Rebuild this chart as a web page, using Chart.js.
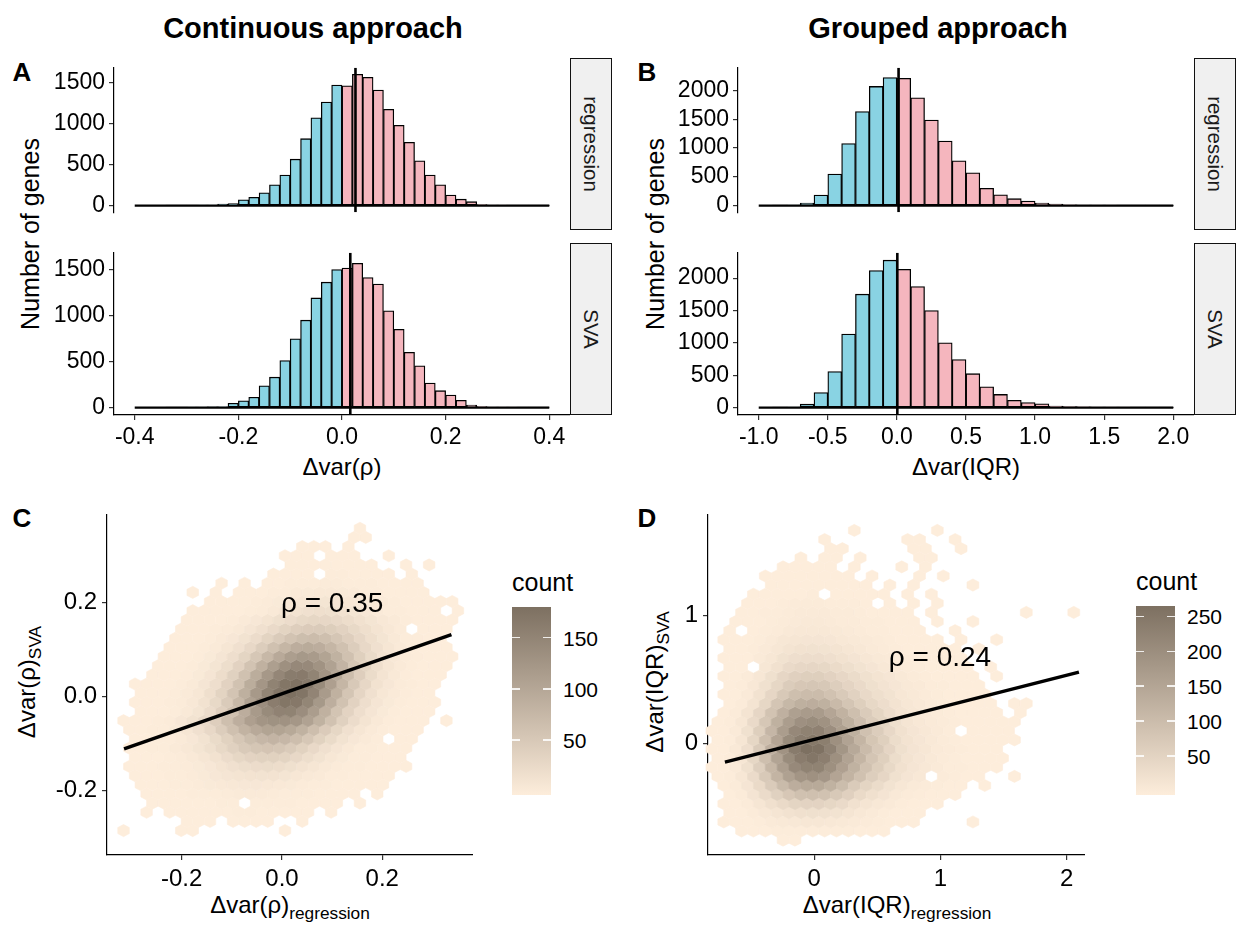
<!DOCTYPE html>
<html><head><meta charset="utf-8">
<script src="https://cdn.jsdelivr.net/npm/chart.js@4.4.0/dist/chart.umd.min.js"></script>
<style>
body{margin:0;background:#fff;width:1238px;height:927px;position:relative;overflow:hidden;font-family:"Liberation Sans",Arial,Helvetica,sans-serif;color:#000}
canvas{position:absolute}
.t{position:absolute;white-space:nowrap;transform:translate(-50%,-50%);line-height:1}
.r{transform:translate(-50%,-50%) rotate(-90deg)}
.b{font-weight:bold}
.strip{position:absolute;background:#F0F0F0;border:1.3px solid #111;box-sizing:border-box}
.strip span{position:absolute;left:50%;top:50%;transform:translate(-50%,-50%) rotate(90deg);white-space:nowrap;font-size:20.5px;color:#1a1a1a}
.sub{font-size:0.72em;position:relative;top:0.32em}
.lg{position:absolute;white-space:nowrap;line-height:1;transform:translate(0,-50%)}
.bar{position:absolute}
.tk{position:absolute;height:1.6px;width:8px;background:rgba(255,255,255,0.85)}
</style></head><body>

<div class="t b" style="left:313px;top:28px;font-size:29px">Continuous approach</div>
<div class="t b" style="left:938px;top:28px;font-size:29px">Grouped approach</div>
<div class="t b" style="left:22px;top:72px;font-size:26px">A</div>
<div class="t b" style="left:647px;top:72px;font-size:26px">B</div>
<div class="t b" style="left:22px;top:518px;font-size:26px">C</div>
<div class="t b" style="left:647px;top:518px;font-size:26px">D</div>
<div class="t r" style="left:30px;top:234px;font-size:25px">Number of genes</div>
<div class="t r" style="left:655px;top:234px;font-size:25px">Number of genes</div>
<div class="t" style="left:342px;top:467px;font-size:24px">Δvar(ρ)</div>
<div class="t" style="left:966px;top:467px;font-size:24px">Δvar(IQR)</div>
<div class="t" style="left:290px;top:905px;font-size:24px">Δvar(ρ)<span class="sub">regression</span></div>
<div class="t r" style="left:27px;top:682px;font-size:24px">Δvar(ρ)<span class="sub">SVA</span></div>
<div class="t" style="left:897px;top:905px;font-size:24px">Δvar(IQR)<span class="sub">regression</span></div>
<div class="t r" style="left:655px;top:682px;font-size:24px">Δvar(IQR)<span class="sub">SVA</span></div>

<div class="strip" style="left:570px;top:58px;width:42px;height:172px"><span>regression</span></div>
<div class="strip" style="left:570px;top:243px;width:42px;height:172px"><span>SVA</span></div>
<div class="strip" style="left:1194px;top:58px;width:42px;height:172px"><span>regression</span></div>
<div class="strip" style="left:1194px;top:243px;width:42px;height:172px"><span>SVA</span></div>

<script>
// ---------------- DATA ----------------
const facetLabels = ['regression', 'SVA'];

// Panel A: histogram of Δvar(ρ), bins of 0.02
const edgesA = [-0.40,-0.38,-0.36,-0.34,-0.32,-0.30,-0.28,-0.26,-0.24,-0.22,-0.20,-0.18,-0.16,-0.14,-0.12,-0.10,-0.08,-0.06,-0.04,-0.02,0.00,0.02,0.04,0.06,0.08,0.10,0.12,0.14,0.16,0.18,0.20,0.22,0.24,0.26,0.28,0.30,0.32,0.34,0.36,0.38,0.40];
const countsA_regression = [0,0,0,1,2,3,5,8,20,25,72,102,157,253,372,567,817,1073,1264,1472,1462,1602,1565,1411,1175,980,772,547,372,253,130,79,48,14,8,5,3,2,1,1];
const countsA_SVA = [0,0,0,1,2,3,5,8,10,48,75,113,236,331,512,748,950,1192,1363,1500,1517,1568,1414,1343,1052,851,601,454,266,184,137,79,27,12,6,4,3,2,1,1];
const medianA = [0.026, 0.016];
const yTicksA = [0,500,1000,1500];
const xTicksA = [-0.4,-0.2,0,0.2,0.4];
const xTickLabelsA = ['-0.4','-0.2','0.0','0.2','0.4'];

// Panel B: histogram of Δvar(IQR), bins of 0.1
const edgesB = [-1.0,-0.9,-0.8,-0.7,-0.6,-0.5,-0.4,-0.3,-0.2,-0.1,0.0,0.1,0.2,0.3,0.4,0.5,0.6,0.7,0.8,0.9,1.0,1.1,1.2,1.3,1.4,1.5,1.6,1.7,1.8,1.9,2.0];
const countsB_regression = [0,2,5,44,184,549,1078,1631,2068,2223,2209,1869,1485,1121,777,568,301,189,121,78,44,29,15,10,8,5,4,2,1,1];
const countsB_SVA = [0,1,5,53,233,558,1136,1752,2117,2277,2136,1869,1500,1000,743,524,320,204,112,78,58,24,15,12,8,5,4,3,2,1];
const medianB = [0.012, 0.003];
const yTicksB = [0,500,1000,1500,2000];
const xTicksB = [-1,-0.5,0,0.5,1,1.5,2];
const xTickLabelsB = ['-1.0','-0.5','0.0','0.5','1.0','1.5','2.0'];

// Panel C: hexbin counts (rows bottom->top, odd rows shifted half a bin)
const hexGridC = {x0:-0.316, dx:0.023, y0:-0.286, dy:0.0195};
const hexCountsC = [
[1,0,0,0,0,1,1,0,0,0,0,0,0,0,1],
[0,0,0,0,0,1,1,1,0,1,1,1,1,0,0,1],
[0,0,1,0,1,1,1,1,1,1,2,2,1,1,1,1,1,0,1],
[0,0,1,1,1,1,1,1,2,2,0,3,2,2,2,1,1,1,1,0,1],
[0,0,1,1,1,1,2,2,3,4,5,5,5,4,3,2,2,1,1,1,1,0,1],
[0,1,1,1,2,3,4,6,7,8,9,9,8,7,6,4,3,2,1,1,1,1,1],
[0,1,1,1,2,3,4,6,9,12,14,15,16,15,13,10,7,5,3,2,1,1,1,1],
[1,1,1,2,3,4,6,9,14,19,23,25,26,24,20,15,11,7,4,3,2,1,1,1,1],
[0,1,1,1,2,4,7,11,17,25,33,38,40,40,37,31,23,16,10,6,3,2,1,1,1],
[1,1,2,3,5,8,13,20,30,41,51,57,59,57,50,40,29,19,12,7,3,2,1,1,1],
[0,1,1,2,3,5,9,16,27,40,55,69,78,82,78,68,55,40,27,16,9,5,2,0,1,1],
[1,1,2,3,6,11,19,31,47,66,84,98,106,106,99,86,68,49,33,19,11,5,3,1,1,1],
[1,1,1,2,4,9,16,28,45,67,91,112,127,132,131,124,108,86,62,41,25,14,7,3,1,1,1,0,1],
[0,1,1,1,3,7,13,25,42,65,92,120,142,154,153,138,115,87,60,38,22,12,6,2,1,1,1],
[0,1,1,1,2,4,8,17,30,50,77,108,138,161,172,168,149,122,91,62,39,22,12,6,2,1,1,1],
[0,1,1,1,2,5,10,21,37,60,89,121,150,171,180,173,151,119,87,58,35,19,10,5,2,1,1],
[0,1,1,1,1,2,5,12,22,39,63,93,125,153,172,177,166,142,112,80,53,32,17,9,4,2,1,1],
[0,0,1,1,1,3,6,12,24,41,64,93,123,148,163,165,152,128,99,70,45,26,14,7,3,1,1,1],
[0,0,0,1,1,1,3,6,13,23,39,61,87,113,134,145,144,130,108,82,57,36,21,11,5,2,1,1,1],
[0,0,0,1,1,1,3,6,12,22,36,55,77,98,114,122,119,106,86,64,43,27,15,8,4,2,1,1,1],
[0,0,0,0,1,1,1,3,5,11,19,31,47,64,80,92,96,92,80,64,47,31,19,11,5,3,1,1,1],
[0,0,0,0,1,1,1,2,5,9,16,25,37,50,61,69,71,67,57,45,32,21,13,7,3,2,1,1],
[0,0,0,0,0,1,1,1,2,4,7,12,19,28,37,45,49,50,46,39,30,21,14,8,4,0,1,1,1],
[0,0,0,0,0,1,1,1,1,3,5,9,14,20,25,30,33,32,29,24,18,13,8,5,2,1,1,1,1],
[0,0,0,0,0,0,1,1,1,1,1,2,4,7,11,15,19,21,20,17,13,9,5,3,2,1,1,1,0,1],
[0,0,0,0,0,0,0,1,1,1,1,2,4,6,8,10,12,13,12,10,8,6,4,2,1,1,1,1,1],
[0,0,0,0,0,0,1,0,1,0,1,1,1,2,3,5,6,7,7,6,5,3,2,1,1,1,1],
[0,0,0,0,0,0,0,0,1,0,1,0,1,1,2,3,3,4,4,3,3,2,1,1,1,1],
[0,0,0,0,0,0,0,0,0,0,0,0,0,1,1,1,1,0,2,2,1,1,1,1,0,1],
[0,0,0,0,0,0,0,0,0,0,0,0,0,0,1,1,1,1,1,1,1,1,0,0,1,0,1],
[0,0,0,0,0,0,0,0,0,0,0,0,0,0,1,1,1,0,1,1,1,0,0,1],
[0,0,0,0,0,0,0,0,0,0,0,0,0,0,0,1,1,1,0,1],
[0,0,0,0,0,0,0,0,0,0,0,0,0,0,0,0,0,0,0,0,1,1],
[0,0,0,0,0,0,0,0,0,0,0,0,0,0,0,0,0,0,0,0,1]
];
const fitC_x = [-0.315, 0.338];
const fitC_y = [-0.112, 0.131];
const annotC = {text:'ρ = 0.35', x:0.10, y:0.196};
const xTicksC = [-0.2,0,0.2], xTickLabelsC = ['-0.2','0.0','0.2'];
const yTicksC = [-0.2,0,0.2], yTickLabelsC = ['-0.2','0.0','0.2'];
const legendTicksC = [50,100,150];

// Panel D
const hexGridD = {x0:-0.811, dx:0.094, y0:-0.756, dy:0.0712};
const hexCountsD = [
[0,0,0,0,0,0,1,1],
[0,0,1,1,2,3,3,4,4,4,3,3,2,1,1],
[0,1,1,2,4,7,10,12,13,13,11,9,7,5,4,2,1,1,0,0,0,0,1],
[0,1,2,6,12,18,24,28,29,27,23,18,11,7,4,2,1,1],
[0,1,2,6,16,28,41,52,55,55,48,40,26,18,12,7,4,2,1,1],
[0,2,6,19,38,60,80,93,96,91,77,61,41,28,19,10,6,3,2,1,1],
[0,1,5,17,41,73,107,135,143,143,126,103,72,52,37,23,13,8,5,3,1,1,0,1],
[1,3,13,38,77,121,161,186,194,183,154,123,94,66,49,27,17,11,0,5,3,2,1,0,0,1],
[1,2,8,27,64,115,167,211,225,225,197,162,126,93,67,44,26,17,11,7,4,3,1,1,1],
[1,4,16,48,98,155,206,238,252,234,197,157,119,85,63,35,22,15,10,6,4,2,1,1,1],
[1,2,10,30,73,131,191,241,264,260,226,185,144,106,77,51,29,19,13,8,5,3,2,1,1],
[1,4,16,48,97,154,206,237,246,233,197,157,119,84,63,35,22,15,10,6,4,2,1,1,1,1],
[1,2,8,27,65,116,169,213,227,228,200,164,128,94,68,45,26,17,11,7,4,0,2,1,1,1],
[1,3,14,40,81,128,170,196,204,193,163,130,99,70,52,29,18,12,8,5,3,2,1,1,1,1],
[0,1,6,20,49,89,129,163,174,174,152,125,97,72,52,34,20,13,8,5,3,2,1,1,1,0,1],
[0,1,6,20,48,85,113,130,135,128,108,86,65,46,34,22,14,9,6,4,2,1,1,1,0,1,1],
[0,1,2,8,24,49,77,97,104,104,91,74,58,43,31,23,14,9,6,4,2,1,1,1],
[0,1,3,11,27,48,70,80,83,79,66,53,40,29,21,15,10,7,4,3,2,1,1],
[0,1,1,5,14,29,49,61,65,65,57,47,37,27,20,15,9,6,4,2,1,1,1,0,1],
[0,1,2,0,13,26,40,47,49,46,39,31,23,17,12,8,5,3,2,1,1,1,0,1],
[0,1,1,2,7,14,25,32,34,34,30,24,19,14,10,7,4,3,2,1,1,1],
[0,1,1,3,7,13,20,24,25,23,20,16,12,8,6,3,2,1,1,1,1,0,1],
[0,1,1,1,3,7,13,16,17,17,15,12,9,7,5,3,2,1,1,1,0,1,0,0,1],
[0,1,0,1,3,6,10,11,11,11,9,7,6,4,3,2,1,1,0,0,1],
[0,0,1,1,2,4,6,8,9,9,8,6,5,4,3,2,1,1,0,1,0,0,1],
[0,0,1,1,3,4,6,7,7,7,6,5,3,2,2,1,1,0,1,0,0,0,0,0,0,0,1,0,0,0,1],
[0,0,0,1,1,2,4,5,5,5,4,3,3,2,0,1,0,1,0,1],
[0,0,0,1,1,2,2,2,3,0,2,2,1,1,1,0,1,0,1],
[0,0,0,0,0,1,1,2,2,2,2,1,1,1,0,1,0,1,0,0,0,0,1],
[0,0,0,0,1,1,1,1,2,1,1,1,0,1,0,0,0,1,0,1],
[0,0,0,0,0,0,1,1,1,1,1,0,1,0,0,0,1,0,1],
[0,0,0,0,0,0,0,1,0,1,1,0,1,0,0,0,0,1,1],
[0,0,0,0,0,0,0,0,0,0,1,1,0,0,0,0,0,1,1,0,0,1],
[0,0,0,0,0,0,0,0,0,1,0,0,0,0,0,0,1,1,0,0,1],
[0,0,0,0,0,0,0,0,0,0,0,0,1,0,0,0,0,0,0,1]
];
const fitD_x = [-0.708, 2.097];
const fitD_y = [-0.146, 0.557];
const annotD = {text:'ρ = 0.24', x:0.996, y:0.667};
const xTicksD = [0,1,2], xTickLabelsD = ['0','1','2'];
const yTicksD = [0,1], yTickLabelsD = ['0','1'];
const legendTicksD = [50,100,150,200,250];

// ---------------- STYLE ----------------
const BLUE = '#89D3E3', PINK = '#F5B6BE';
const LOW = [253,237,219], HIGH = [125,112,97];
Chart.defaults.font.family = '"Liberation Sans", Arial, Helvetica, sans-serif';
Chart.defaults.color = '#000';

function fillFor(c, maxC){
  const t = Math.max(0, Math.min(1, (c-1)/(maxC-1)));
  const r = LOW.map((l,k)=>Math.round(l + (HIGH[k]-l)*t));
  return `rgb(${r[0]},${r[1]},${r[2]})`;
}
function mkCanvas(b){
  const cv = document.createElement('canvas');
  cv.width = b.w; cv.height = b.h;
  cv.style.left = b.l+'px'; cv.style.top = b.t+'px';
  document.body.appendChild(cv);
  return cv;
}
function axisCommon(min, max, ticks, labels, fontSize, pad){
  return {
    type:'linear', min, max, offset:false,
    afterBuildTicks: s => { s.ticks = ticks.map(v => ({value:v})); },
    ticks:{ callback:(v,i)=>labels[i], font:{size:fontSize}, color:'#000', padding:pad, maxRotation:0, autoSkip:false },
    grid:{ offset:false, drawOnChartArea:false, drawTicks:true, tickLength:5, color:'#333', lineWidth:1.2 },
    border:{ display:true, color:'#000', width:1.2 }
  };
}

function makeHist(b, yw, edges, counts, med, xr, yr, yTicks, xTicks, xLabels, showX){
  const cv = mkCanvas(b);
  const bars = counts.map((c,i)=>({x:(edges[i]+edges[i+1])/2, y:c}));
  const cols = counts.map((c,i)=> edges[i] < 0 ? BLUE : PINK);
  const xs = axisCommon(xr[0], xr[1], xTicks, xLabels, 23, 4);
  xs.display = showX;
  if (showX) xs.afterFit = s => { s.height = 50; };
  const ys = axisCommon(yr[0], yr[1], yTicks, yTicks.map(String), 23, 4);
  ys.afterFit = s => { s.width = yw; };
  new Chart(cv, {
    type:'bar',
    data:{datasets:[
      {type:'line', data:[{x:edges[0],y:0},{x:edges[edges.length-1],y:0}], borderColor:'#000', borderWidth:2.2, pointRadius:0, order:1},
      {type:'bar', data:bars, backgroundColor:cols, borderColor:'#000', borderWidth:1.3, borderSkipped:false, barPercentage:1, categoryPercentage:1, order:2},
      {type:'line', data:[{x:med,y:yr[0]},{x:med,y:yr[1]}], borderColor:'#000', borderWidth:2.6, pointRadius:0, order:0}
    ]},
    options:{ responsive:false, animation:false, events:[],
      layout:{padding:{top:b.pt,left:0,right:0,bottom:0}},
      plugins:{legend:{display:false}, tooltip:{enabled:false}},
      scales:{x:xs, y:ys} }
  });
}

const rangeA = [-80.1, 1682.1], rangeB = [-113.85, 2390.85];
makeHist({l:0,t:50,w:570,h:180,pt:8}, 114, edgesA, countsA_regression, medianA[0], [-0.44,0.44], rangeA, yTicksA, xTicksA, xTickLabelsA, false);
makeHist({l:0,t:235,w:570,h:230,pt:8}, 114, edgesA, countsA_SVA, medianA[1], [-0.44,0.44], rangeA, yTicksA, xTicksA, xTickLabelsA, true);
makeHist({l:640,t:50,w:554,h:180,pt:8}, 98, edgesB, countsB_regression, medianB[0], [-1.15,2.15], rangeB, yTicksB, xTicksB, xTickLabelsB, false);
makeHist({l:640,t:235,w:554,h:230,pt:8}, 98, edgesB, countsB_SVA, medianB[1], [-1.15,2.15], rangeB, yTicksB, xTicksB, xTickLabelsB, true);

const hexPlugin = {
  id:'hexcells',
  beforeDatasetsDraw(chart){
    const ds = chart.data.datasets[0], meta = chart.getDatasetMeta(0);
    const xs = chart.scales.x, ys = chart.scales.y, g = ds.grid;
    const hw = Math.abs(xs.getPixelForValue(g.dx) - xs.getPixelForValue(0))/2;
    const rh = Math.abs(ys.getPixelForValue(g.dy) - ys.getPixelForValue(0));
    const tip = rh*0.664, sh = rh*0.332;
    const ctx = chart.ctx; ctx.save();
    meta.data.forEach((el,k)=>{
      const col = fillFor(ds.data[k].c, ds.maxCount);
      ctx.beginPath();
      ctx.moveTo(el.x, el.y-tip); ctx.lineTo(el.x+hw, el.y-sh); ctx.lineTo(el.x+hw, el.y+sh);
      ctx.lineTo(el.x, el.y+tip); ctx.lineTo(el.x-hw, el.y+sh); ctx.lineTo(el.x-hw, el.y-sh); ctx.closePath();
      ctx.fillStyle = col; ctx.fill(); ctx.strokeStyle = col; ctx.lineWidth = 0.6; ctx.stroke();
    });
    ctx.restore();
  },
  afterDatasetsDraw(chart){
    const a = chart.data.datasets[0].annot; const ctx = chart.ctx;
    ctx.save(); ctx.font = '28px "Liberation Sans", Arial, sans-serif'; ctx.fillStyle = '#000';
    ctx.textAlign = 'center'; ctx.textBaseline = 'middle';
    ctx.fillText(a.text, chart.scales.x.getPixelForValue(a.x), chart.scales.y.getPixelForValue(a.y));
    ctx.restore();
  }
};

function makeHex(b, yw, grid, counts, xr, yr, xT, xL, yT, yL, fx, fy, annot){
  const cv = mkCanvas(b);
  const pts = [];
  let maxC = 1;
  counts.forEach((row,j)=>row.forEach((c,i)=>{
    if (c>0){ pts.push({x:grid.x0 + i*grid.dx + (j%2 ? grid.dx/2 : 0), y:grid.y0 + j*grid.dy, c}); if (c>maxC) maxC=c; }
  }));
  const xs = axisCommon(xr[0], xr[1], xT, xL, 24, 5); xs.afterFit = s => { s.height = 45; };
  const ys = axisCommon(yr[0], yr[1], yT, yL, 24, 5); ys.afterFit = s => { s.width = yw; };
  new Chart(cv, {
    type:'scatter',
    data:{datasets:[
      {data:pts, pointRadius:0, pointHoverRadius:0, grid, maxCount:maxC, annot, order:2},
      {type:'line', data:fx.map((x,k)=>({x, y:fy[k]})), borderColor:'#000', borderWidth:3.5, pointRadius:0, order:1}
    ]},
    options:{ responsive:false, animation:false, events:[],
      layout:{padding:{top:b.pt,left:0,right:0,bottom:0}},
      plugins:{legend:{display:false}, tooltip:{enabled:false}},
      scales:{x:xs, y:ys} },
    plugins:[hexPlugin]
  });
  return maxC;
}

const maxC = makeHex({l:40,t:495,w:433,h:405,pt:14}, 67, hexGridC, hexCountsC, [-0.349,0.381], [-0.338,0.387], xTicksC, xTickLabelsC, yTicksC, yTickLabelsC, fitC_x, fitC_y, annotC);
const maxD = makeHex({l:640,t:495,w:445,h:405,pt:14}, 68, hexGridD, hexCountsD, [-0.842,2.145], [-0.872,1.79], xTicksD, xTickLabelsD, yTicksD, yTickLabelsD, fitD_x, fitD_y, annotD);

// colour-bar legends
function legend(left, top, w, h, lo, hi, ticks){
  const lab = document.createElement('div'); lab.className='lg'; lab.style.left=left+'px'; lab.style.top=(top-25)+'px'; lab.style.fontSize='25px'; lab.textContent='count';
  document.body.appendChild(lab);
  const bar = document.createElement('div'); bar.className='bar';
  Object.assign(bar.style,{left:left+'px', top:top+'px', width:w+'px', height:h+'px',
    background:`linear-gradient(to top, rgb(${LOW.join(',')}), rgb(${HIGH.join(',')}))`});
  document.body.appendChild(bar);
  ticks.forEach(v=>{
    const y = top + h - (v-lo)/(hi-lo)*h;
    [left, left+w-8].forEach(x=>{ const t=document.createElement('div'); t.className='tk'; t.style.left=x+'px'; t.style.top=(y-0.8)+'px'; document.body.appendChild(t); });
    const l = document.createElement('div'); l.className='lg'; l.style.left=(left+w+12)+'px'; l.style.top=y+'px'; l.style.fontSize='21px'; l.textContent=String(v);
    document.body.appendChild(l);
  });
}
legend(512, 607, 39, 188, -4, maxC, legendTicksC);
legend(1136, 606, 39, 189, -6, maxD+1, legendTicksD);
</script>
</body></html>
